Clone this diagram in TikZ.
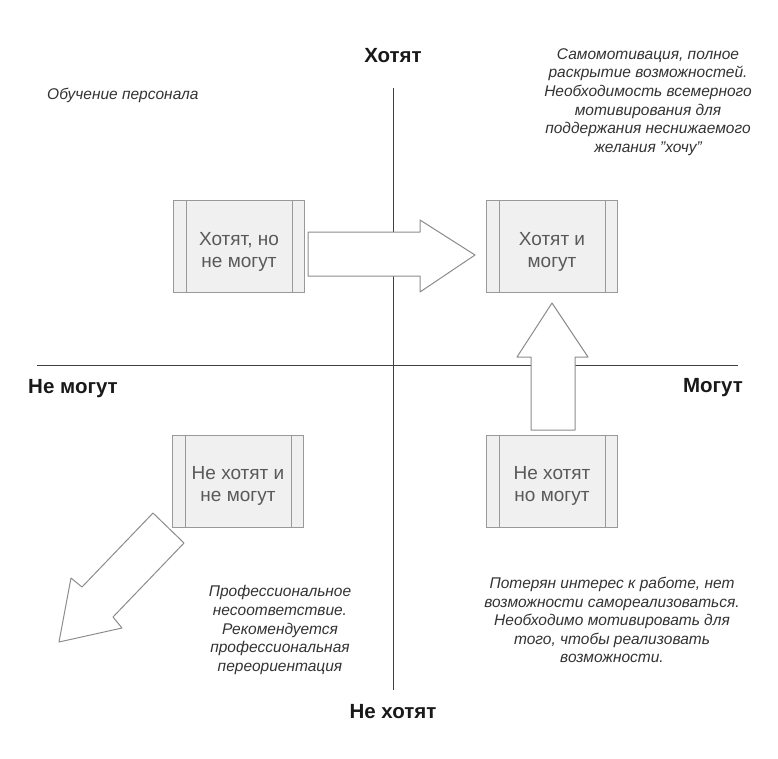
\documentclass[tikz,border=0pt]{standalone}
\usepackage{fontspec}
\setmainfont{Liberation Sans}
\begin{document}
\begin{tikzpicture}[x=1pt,y=-1pt,
  axislbl/.style={font=\fontsize{20.5}{24}\selectfont\bfseries, text=black!90},
  note/.style={font=\fontsize{15.5}{18.6}\selectfont\itshape, text=black!80, align=center, inner sep=0pt},
  procbox/.style={draw=black!40, fill=black!6, line width=0.9pt, minimum width=131pt, minimum height=92pt, inner sep=0pt},
  boxtext/.style={font=\fontsize{19}{22}\selectfont, text=black!65, align=center, inner sep=0pt},
  bar/.style={draw=black!40, line width=0.9pt},
  bigarrow/.style={draw=black!45, fill=white, line width=1pt, line join=round},
  axis/.style={draw=black!75, line width=0.8pt}]
\useasboundingbox (0,0) rectangle (778,758);
\fill[white] (0,0) rectangle (778,758);
% axes
\coordinate (vt) at (393,88);
\coordinate (vb) at (393,690);
\coordinate (hl) at (37,365);
\coordinate (hr) at (738,365);
\draw[axis] (vt) -- (vb);
\draw[axis] (hl) -- (hr);
% axis labels
\node[axislbl] (want) at (393,56) {Хотят};
\node[axislbl] (cannot) at (73,389) {Не могут};
\node[axislbl] (can) at (713,388) {Могут};
\node[axislbl] (notwant) at (393,712) {Не хотят};
% boxes
\node[procbox] (b1) at (239,246) {};
\node[procbox] (b2) at (552,246) {};
\node[procbox] (b3) at (238,481) {};
\node[procbox] (b4) at (552,481) {};
\foreach \b in {b1,b2,b3,b4}{
  \draw[bar] ([xshift=13pt]\b.north west) -- ([xshift=13pt]\b.south west);
  \draw[bar] ([xshift=-13pt]\b.north east) -- ([xshift=-13pt]\b.south east);
}
\node[boxtext] (t1) at ([yshift=-6pt]b1.center) {Хотят, но\\не могут};
\node[boxtext] (t2) at ([yshift=-6pt]b2.center) {Хотят и\\могут};
\node[boxtext] (t3) at ([yshift=-5pt]b3.center) {Не хотят и\\не могут};
\node[boxtext] (t4) at ([yshift=-5pt]b4.center) {Не хотят\\но могут};
% block arrows
\draw[bigarrow] (308,232) -- (420,232) -- (420,220) -- (475,255) -- (420,292) -- (420,276) -- (308,276) -- cycle;
\draw[bigarrow] (531,430) -- (531,357) -- (517,357) -- (552,303) -- (588,357) -- (575,357) -- (575,430) -- cycle;
\draw[bigarrow] (153,513) -- (184,543) -- (113,617) -- (122,628) -- (59,642) -- (71,578) -- (82,587) -- cycle;
% notes
\node[note, anchor=west] (n1) at (47,95) {Обучение персонала};
\node[note] (n2) at (648,102) {Самомотивация, полное\\раскрытие возможностей.\\Необходимость всемерного\\мотивирования для\\поддержания неснижаемого\\желания "хочу"};
\node[note] (n3) at (280,630) {Профессиональное\\несоответствие.\\Рекомендуется\\профессиональная\\переориентация};
\node[note] (n4) at (612,620) {Потерян интерес к работе, нет\\возможности самореализоваться.\\Необходимо мотивировать для\\того, чтобы реализовать\\возможности.};
\end{tikzpicture}
\end{document}
